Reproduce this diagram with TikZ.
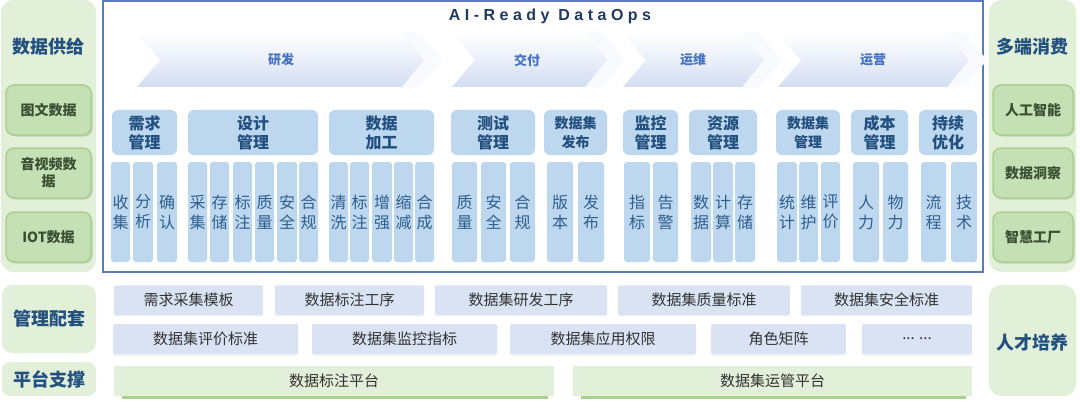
\documentclass[tikz,border=0pt]{standalone}
\usepackage{fontspec}
\setmainfont{Noto Sans CJK SC}
\newfontfamily\titlefont[LetterSpace=28]{Liberation Sans}
\usetikzlibrary{shadows}

\definecolor{panelgreen}{HTML}{E2EFD9}
\definecolor{boxgreen}{HTML}{C5E0B4}
\definecolor{edgegreen}{HTML}{A9D18E}
\definecolor{darkgreen}{HTML}{3B4F32}
\definecolor{navy}{HTML}{22507F}
\definecolor{frameblue}{HTML}{5B7BC0}
\definecolor{catblue}{HTML}{BDD7EE}
\definecolor{coltext}{HTML}{2F5F8F}
\definecolor{chevblue}{HTML}{D3DDF2}
\definecolor{chevtext}{HTML}{4472C4}
\definecolor{mgblue}{HTML}{DAE3F3}
\definecolor{titlenavy}{HTML}{1F3864}
\definecolor{mgtext}{HTML}{333333}

\newcommand{\fs}[1]{\fontsize{#1}{#1}\selectfont}

\tikzset{
    panel/.style={fill=panelgreen, rounded corners=12pt, inner sep=0pt},
    paneltitle/.style={text=navy, font=\bfseries\fs{18}},
    source/.style={fill=boxgreen, draw=edgegreen, line width=1.5pt, rounded corners=8pt,
        drop shadow={shadow xshift=1.5pt, shadow yshift=-1.5pt, opacity=0.3},
        text=darkgreen, font=\bfseries\fontsize{14}{17}\selectfont, align=center, inner sep=0pt},
    frame/.style={draw=frameblue, line width=1.3pt, fill=white, inner sep=0pt},
    chevron/.style={top color=white, bottom color=chevblue},
    chevghost/.style={fill=chevblue!14},
    chevlabel/.style={text=chevtext, font=\bfseries\fs{13}},
    category/.style={fill=catblue, rounded corners=6pt, text=navy, align=center, inner sep=0pt,
        minimum height=45pt},
    column/.style={fill=catblue, rounded corners=3pt, text=coltext, align=center, inner sep=0pt,
        minimum height=100pt, font=\fontsize{16}{20}\selectfont},
    rule/.style={fill=mgblue, rounded corners=2pt, text=mgtext, inner sep=0pt, font=\fs{15},
        drop shadow={shadow xshift=0pt, shadow yshift=-1.5pt, opacity=0.12}},
    platform/.style={fill=panelgreen, text=mgtext, inner sep=0pt, font=\fs{15}, minimum height=30pt}
}

\begin{document}
\begin{tikzpicture}[x=1pt, y=-1pt]
        \useasboundingbox (0,0) rectangle (1080,404);

        % Side panels
        \node[panel, minimum width=95pt, minimum height=272pt] (S) at (48.5,136) {};
        \node[paneltitle] (S0) at (48.5,47) {数据供给};
        \node[source, minimum width=85pt, minimum height=50pt] (S1) at (48.5,110) {图文数据};
        \node[source, minimum width=85pt, minimum height=50pt] (S2) at (48.5,173) {音视频数\\据};
        \node[source, minimum width=85pt, minimum height=50pt] (S3) at (48.5,237) {IOT数据};

        \node[panel, minimum width=87pt, minimum height=272pt] (C) at (1032.5,136) {};
        \node[paneltitle] (C0) at (1032.5,47) {多端消费};
        \node[source, minimum width=80pt, minimum height=50pt] (C1) at (1033,110) {人工智能};
        \node[source, minimum width=80pt, minimum height=50pt] (C2) at (1033,173) {数据洞察};
        \node[source, minimum width=80pt, minimum height=50pt] (C3) at (1033,237) {智慧工厂};

        % Main frame
        \node[frame, minimum width=880pt, minimum height=271pt] (M) at (543,136.5) {};
        \node[text=titlenavy, font=\titlefont\bfseries\fs{16}] (M0) at (550,16) {AI-Ready DataOps};

        % Phases
        \foreach \l/\r/\tx/\t [count=\i] in {137/402/281/研发, 452/585/527/交付, 623/742/693/运维, 778/947/873/运营} {
            \fill[chevghost] ({\l+18},33) -- ({\r+18},33) -- ({\r+40},60) -- ({\r+18},87)
                -- ({\l+18},87) -- ({\l+41},60) -- cycle;
            \path[chevron] (\l,33) -- (\r,33) -- ({\r+22},60) -- (\r,87)
                -- (\l,87) -- ({\l+23},60) -- cycle;
            \node[chevlabel] (P\i) at (\tx,60) {\t};
        }

        % Categories
        \foreach \cx/\w/\a/\b/\s [count=\i] in {144.5/65/需求/管理/16, 253/130/设计/管理/16,
            381.5/105/数据/加工/16, 493/84/测试/管理/16, 575.5/63/数据集/发布/14,
            650.5/55/监控/管理/16, 723/68/资源/管理/16, 808/64/数据集/管理/14,
            879.5/57/成本/管理/16, 948/58/持续/优化/16}
            \node[category, minimum width=\w pt, font=\bfseries\fontsize{\s}{19}\selectfont] (K\i) at (\cx,132.5) {\a\\\b};

        % Columns
        \foreach \cx/\w/\a/\b [count=\i] in {120.5/19/收/集, 143/20/分/析, 167/20/确/认,
            197.5/19/采/集, 219.5/19/存/储, 242.5/19/标/注, 264.5/19/质/量, 287/20/安/全, 308.5/19/合/规,
            338.5/19/清/洗, 359.5/19/标/注, 382/20/增/强, 403.5/19/缩/减, 424.5/19/合/成,
            464.5/25/质/量, 493.5/25/安/全, 522.5/25/合/规,
            560/26/版/本, 591/26/发/布,
            637/26/指/标, 665.5/25/告/警,
            701/20/数/据, 723/20/计/算, 745/20/存/储,
            787/20/统/计, 808.5/19/维/护, 830.5/19/评/价,
            866/26/人/力, 895.5/25/物/力,
            933.5/25/流/程, 964/26/技/术}
            \node[column, minimum width=\w pt] (V\i) at (\cx,212) {\a\\\b};

        % Management rules
        \node[panel, rounded corners=10pt, minimum width=94pt, minimum height=68pt] (G) at (49,319) {};
        \node[paneltitle] (G0) at (49,319) {管理配套};
        \foreach \cx/\w/\t [count=\i] in {188.5/149/需求采集模板, 349.5/149/数据标注工序, 521/172/数据集研发工序,
            704/172/数据集质量标准, 886.5/171/数据集安全标准}
            \node[rule, minimum width=\w pt, minimum height=29.5pt] (R\i) at (\cx,300) {\t};
        \foreach \cx/\w/\t [count=\i] in {205.5/185/数据集评价标准, 404.5/185/数据集监控指标, 603/186/数据集应用权限,
            778.5/135/角色矩阵, 917/110/{... ...}}
            \node[rule, minimum width=\w pt, minimum height=30pt] (Q\i) at (\cx,339) {\t};

        % Platforms
        \node[panel, rounded corners=8pt, minimum width=94pt, minimum height=34pt] (F0) at (49,379) {};
        \node[paneltitle] (F) at (49,379) {平台支撑};
        \fill[edgegreen] (122,372) rectangle (548,398.5);
        \fill[edgegreen] (581,372) rectangle (966,398.5);
        \node[platform, minimum width=440pt] (F1) at (334,381) {数据标注平台};
        \node[platform, minimum width=399pt] (F2) at (772.5,381) {数据集运管平台};

        % Talent
        \node[panel, minimum width=87pt, minimum height=111pt] (T) at (1032.5,340.5) {};
        \node[paneltitle] (T0) at (1032.5,343) {人才培养};
    \end{tikzpicture}
\end{document}
